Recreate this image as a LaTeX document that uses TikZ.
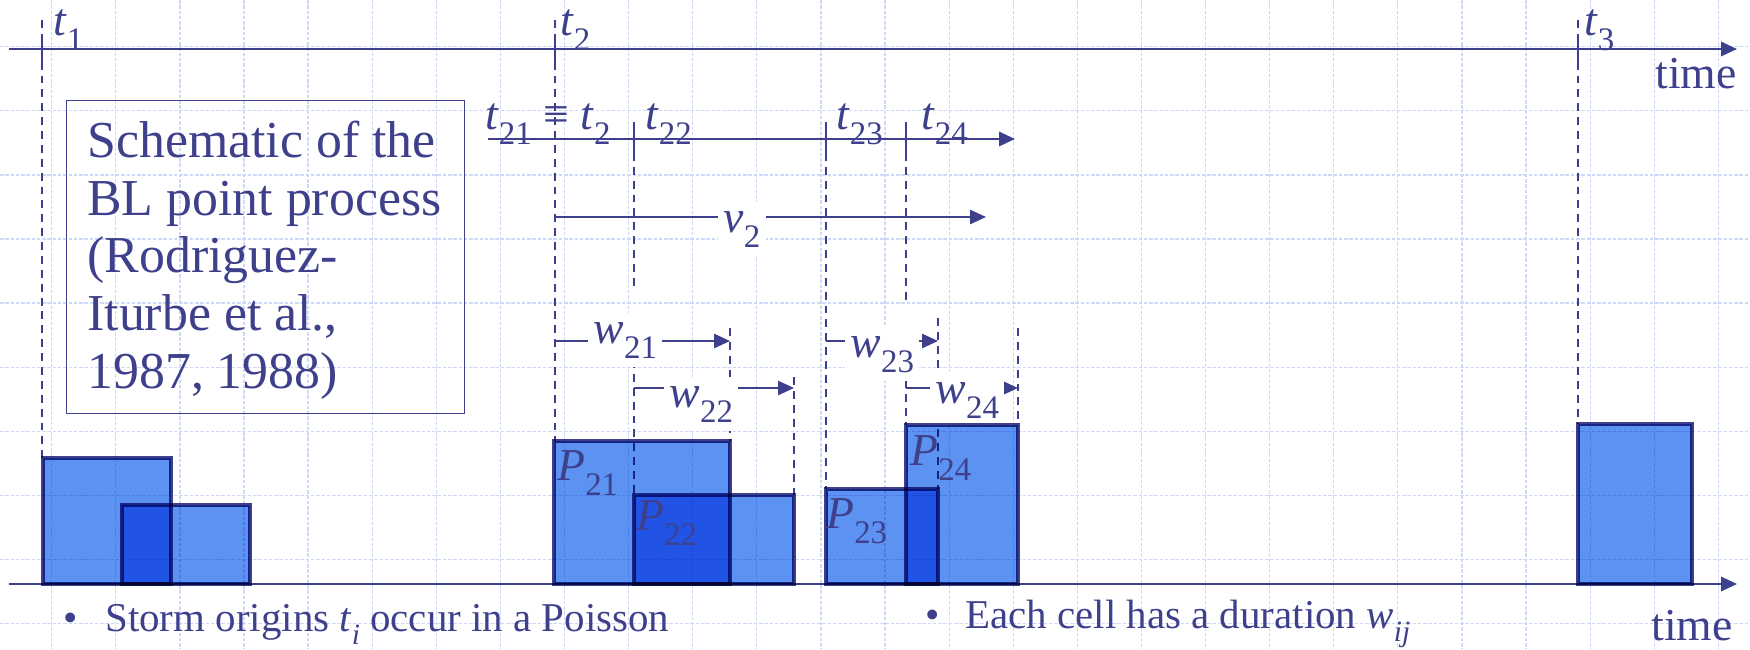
\documentclass[tikz,border=0pt]{standalone}
\usepackage{fontspec}
\setmainfont{Liberation Serif}
\usepackage{graphicx}
\usetikzlibrary{arrows.meta}
\definecolor{inkblue}{RGB}{62,64,140}
\definecolor{gridblue}{RGB}{206,217,247}
\definecolor{cellblue}{RGB}{92,146,242}
\newcommand{\lsub}[1]{\raisebox{-0.33em}{\scalebox{0.72}{#1}}}

\begin{document}
\begin{tikzpicture}[x=0.02cm,y=-0.02cm,
  gridline/.style={draw=gridblue,line width=0.7pt,dash pattern=on 2pt off 1pt},
  axis/.style={draw=inkblue,line width=1.5pt,-{Triangle[length=9pt,width=8pt]}},
  tick/.style={draw=inkblue,line width=1.1pt},
  guide/.style={draw=inkblue,line width=1.1pt,dash pattern=on 4.5pt off 3.4pt},
  span/.style={draw=inkblue,line width=1.2pt,-{Triangle[length=9pt,width=8pt]}},
  cell/.style={draw=inkblue,line width=2.3pt,fill=cellblue},
  frame/.style={draw=inkblue,line width=0.85pt},
  lab/.style={text=inkblue,inner sep=0pt,font=\fontsize{26}{30}\selectfont},
  gaplab/.style={lab,fill=white,inner xsep=3pt,inner ysep=5pt},
  bul/.style={text=inkblue,inner sep=0pt,font=\fontsize{23.3}{28}\selectfont}]
\useasboundingbox (0,0) rectangle (1750,649);

% Background grid
\foreach \i in {0,...,26}
  \draw[gridline] ({51.7+64.1*\i},0) -- ({51.7+64.1*\i},649);
\foreach \j in {0,...,9}
  \draw[gridline] (0,{46.7+64.1*\j}) -- (1750,{46.7+64.1*\j});

% Storm origins on the main time axis
\coordinate (t1) at (42,49);
\coordinate (t2) at (555,49);
\coordinate (t3) at (1578,49);
\draw[axis] (9,49) -- (1737,49);
\foreach \p in {t1,t2,t3}
  \draw[tick] (\p) ++(0,-11) -- ++(0,25);
\node[lab,anchor=base west] (t1lab) at (53,35) {\textit{t}\lsub{1}};
\node[lab,anchor=base west] (t2lab) at (560,35) {\textit{t}\lsub{2}};
\node[lab,anchor=base west] (t3lab) at (1584,35) {\textit{t}\lsub{3}};
\node[lab,anchor=base east] (timetop) at (1737,88) {time};

% Dashed guides from the origins
\draw[guide] (42,20) -- (42,458);
\draw[guide] (555,20) -- (555,441);
\draw[guide] (1578,20) -- (1578,424);

% Cell origins of storm 2
\draw[axis] (488,139) -- (1015,139);
\foreach \x in {634,826,906}
  \draw[tick] (\x,122) -- (\x,157);
\node[lab,anchor=base west] (t21lab) at (485,129) {\textit{t}\lsub{21} ≡ \textit{t}\lsub{2}};
\node[lab,anchor=base west] (t22lab) at (645,129) {\textit{t}\lsub{22}};
\node[lab,anchor=base west] (t23lab) at (836,129) {\textit{t}\lsub{23}};
\node[lab,anchor=base west] (t24lab) at (921,129) {\textit{t}\lsub{24}};
\draw[guide] (634,139) -- (634,290);
\draw[guide] (634,360) -- (634,495);
\draw[guide] (826,139) -- (826,489);
\draw[guide] (906,139) -- (906,305);
\draw[guide] (906,380) -- (906,425);

% Cell displacement v2
\draw[span] (555,217) -- (986,217);
\node[gaplab,anchor=base west] (v2lab) at (718,232) {\textit{v}\lsub{2}};

% Cell durations
\draw[span] (555,341) -- (730,341);
\node[gaplab,anchor=base west] (w21lab) at (588,343) {\textit{w}\lsub{21}};
\draw[guide] (730,328) -- (730,441);
\draw[span] (634,388) -- (794,388);
\node[gaplab,anchor=base west] (w22lab) at (664,407) {\textit{w}\lsub{22}};
\draw[guide] (794,377) -- (794,495);
\draw[span] (826,341) -- (938,341);
\node[gaplab,anchor=base west] (w23lab) at (845,357) {\textit{w}\lsub{23}};
\draw[guide] (938,318) -- (938,489);
\draw[span] (906,388) -- (1018,388);
\node[gaplab,anchor=base west] (w24lab) at (930,403) {\textit{w}\lsub{24}};
\draw[guide] (1018,328) -- (1018,425);

% Lower time axis and rectangular pulses
\draw[axis] (9,584) -- (1737,584);
\node[lab,anchor=base east] (timebot) at (1733,640) {time};
\begin{scope}[blend mode=multiply]
\draw[cell] (42.7,457.7) rectangle (171,584);
\draw[cell] (121.7,505) rectangle (250,584);
\draw[cell] (554,441) rectangle (730,584);
\draw[cell] (634,495) rectangle (794,584);
\draw[cell] (826,489) rectangle (938,584);
\draw[cell] (906,425) rectangle (1018,584);
\draw[cell] (1578,424) rectangle (1692,584);
\end{scope}
\node[lab,anchor=base west] (p21lab) at (557,480) {\textit{P}\lsub{21}};
\node[lab,anchor=base west] (p22lab) at (636,530) {\textit{P}\lsub{22}};
\node[lab,anchor=base west] (p23lab) at (826,528) {\textit{P}\lsub{23}};
\node[lab,anchor=base west] (p24lab) at (910,465) {\textit{P}\lsub{24}};

% Caption box
\node[frame,anchor=north west,minimum width=7.96cm,minimum height=6.26cm] (schembox) at (66,100) {};
\node[text=inkblue,inner sep=0pt,align=left,anchor=north west,
  font=\fontsize{29.5}{32.9}\selectfont] (schemtext) at (87,120.5)
  {Schematic of the\\BL point process\\(Rodriguez-\\Iturbe et al.,\\1987, 1988)};

% Bullets
\node[bul,anchor=base] (bullet1) at (71,631) {•};
\node[bul,anchor=base west] (item1) at (105,631) {Storm origins \textit{t}\lsub{\textit{i}} occur in a Poisson};
\node[bul,anchor=base] (bullet2) at (933,628) {•};
\node[bul,anchor=base west] (item2) at (965,628) {Each cell has a duration \textit{w}\lsub{\textit{ij}}};
\end{tikzpicture}
\end{document}
